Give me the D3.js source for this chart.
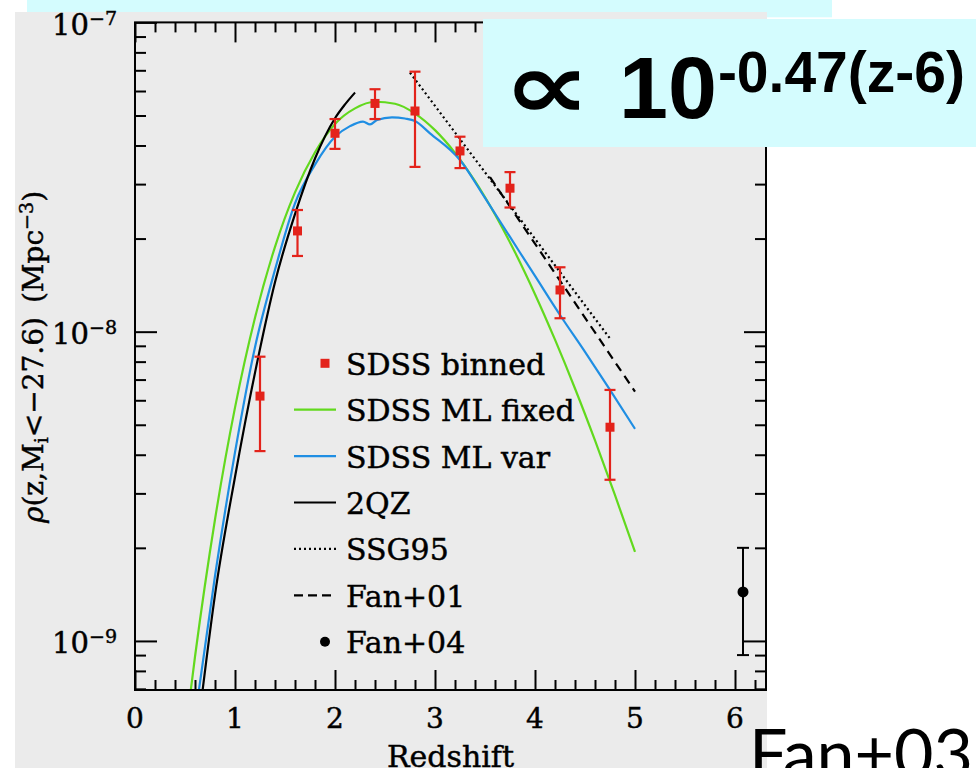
<!DOCTYPE html>
<html>
<head>
<meta charset="utf-8">
<script src="https://cdn.jsdelivr.net/npm/d3@7"></script>
<style>
  html, body { margin: 0; padding: 0; background: #ffffff; }
  svg { display: block; }
</style>
</head>
<body>
<svg id="fig" width="976" height="768"></svg>
<script>
// ---- data -----------------------------------------------------------------
// SDSS binned space density of luminous quasars (Mpc^-3) with 1-sigma range
const sdssZ   = [1.25, 1.625, 2.0, 2.4, 2.8, 3.25, 3.75, 4.25, 4.75];
const sdssRho = [6.19e-9, 2.117e-8, 4.38e-8, 5.47e-8, 5.17e-8, 3.84e-8, 2.91e-8, 1.364e-8, 4.91e-9];
const sdssHi  = [8.30e-9, 2.474e-8, 4.87e-8, 6.08e-8, 6.93e-8, 4.27e-8, 3.28e-8, 1.615e-8, 6.48e-9];
const sdssLo  = [4.11e-9, 1.757e-8, 3.90e-8, 4.87e-8, 3.41e-8, 3.38e-8, 2.52e-8, 1.105e-8, 3.32e-9];

// SDSS maximum-likelihood fit, fixed slope
const mlFixedZ   = [0.5, 0.6, 0.8, 1.0, 1.2, 1.4, 1.6, 1.8, 2.0, 2.2, 2.4, 2.6, 2.8, 3.0,
                    3.2, 3.4, 3.6, 3.8, 4.0, 4.2, 4.4, 4.6, 4.8, 5.0];
const mlFixedRho = [4.93e-10, 8.89e-10, 2.47e-9, 5.68e-9, 1.109e-8, 1.881e-8, 2.822e-8, 3.803e-8,
                    4.696e-8, 5.272e-8, 5.538e-8, 5.456e-8, 5.073e-8, 4.484e-8, 3.786e-8, 3.066e-8,
                    2.393e-8, 1.806e-8, 1.322e-8, 9.42e-9, 6.55e-9, 4.45e-9, 2.96e-9, 1.94e-9];

// SDSS maximum-likelihood fit, variable slope
const mlVarZ   = [0.6, 0.8, 1.0, 1.2, 1.4, 1.6, 1.8, 2.0, 2.15, 2.28, 2.35, 2.42, 2.57, 2.7,
                  2.8, 2.95, 3.25, 3.5, 3.75, 4.0, 4.25, 4.5, 4.75, 5.0];
const mlVarRho = [5.64e-10, 1.622e-9, 4.07e-9, 8.91e-9, 1.585e-8, 2.60e-8, 3.467e-8, 4.266e-8,
                  4.62e-8, 4.78e-8, 4.677e-8, 4.834e-8, 4.933e-8, 4.889e-8, 4.799e-8, 4.378e-8,
                  3.59e-8, 2.706e-8, 2.024e-8, 1.514e-8, 1.132e-8, 8.60e-9, 6.48e-9, 4.85e-9];

// 2QZ
const qzZ   = [0.65, 0.8, 1.0, 1.233, 1.4, 1.6, 1.8, 2.0, 2.1, 2.2];
const qzRho = [5.92e-10, 1.41e-9, 3.39e-9, 8.29e-9, 1.445e-8, 2.399e-8, 3.63e-8, 4.90e-8, 5.43e-8, 5.93e-8];

// SSG95 (power law in log space)
const ssgZ   = [2.75, 4.75];
const ssgRho = [6.88e-8, 9.5e-9];

// Fan+01 (power law in log space)
const fan01Z   = [3.55, 5.0];
const fan01Rho = [3.16e-8, 6.40e-9];

// Fan+04 single point at z~6
const fan04Z   = [6.08];
const fan04Rho = [1.44e-9];
const fan04Hi  = [2.0e-9];
const fan04Lo  = [9.0e-10];

// axis ticks and labels
const xTicks      = [0, 1, 2, 3, 4, 5, 6];
const xTickLabels = ['0', '1', '2', '3', '4', '5', '6'];
const yTicks      = [1e-9, 1e-8, 1e-7];
const yTickExp    = ['\u22129', '\u22128', '\u22127'];

const legendLabels = ['SDSS binned', 'SDSS ML fixed', 'SDSS ML var', '2QZ', 'SSG95', 'Fan+01', 'Fan+04'];

// ---- styling ----------------------------------------------------------------
const SERIF = '"DejaVu Serif", "Liberation Serif", serif';
const RED = '#e3231b', GREEN = '#62d91e', BLUE = '#1f8ee3', INK = '#000000';
const PANEL = '#ebebeb', CYAN = '#d4fcfe';

const svg = d3.select('#fig');

// backdrop: cyan strip, grey figure panel
svg.append('rect').attr('x', 27).attr('y', 0).attr('width', 805).attr('height', 17.3).attr('fill', CYAN);
svg.append('rect').attr('x', 15).attr('y', 12).attr('width', 752).attr('height', 756).attr('fill', PANEL);

// ---- scales ----------------------------------------------------------------
const x = d3.scaleLinear().domain([0, 6.31]).range([135, 766]);
const y = d3.scaleLog().domain([6.94e-10, 1e-7]).range([690, 22.4]);

const [x0, x1] = x.range();
const [y0, y1] = y.range();

svg.append('clipPath').attr('id', 'plotClip')
  .append('rect').attr('x', x0).attr('y', y1).attr('width', x1 - x0).attr('height', y0 - y1);

// ---- ticks (pointing into the frame) --------------------------------------------
const minorX = d3.range(1, 32).map(i => i * 0.2).filter(v => Math.abs(v - Math.round(v)) > 1e-6 && v < 6.31);
const minorY = [];
[1e-10, 1e-9, 1e-8].forEach(dec => { for (let k = 2; k <= 9; k++) { const v = k * dec; if (v > 6.94e-10 && v < 1e-7) minorY.push(v); } });

function tidy(g) {
  g.select('.domain').remove();
  g.selectAll('text').remove();
  g.selectAll('line').attr('stroke', INK).attr('stroke-width', 2);
}
const ticks = svg.append('g');
ticks.append('g').attr('transform', `translate(0,${y0})`).call(d3.axisBottom(x).tickValues(xTicks).tickSize(-20)).call(tidy);
ticks.append('g').attr('transform', `translate(0,${y0})`).call(d3.axisBottom(x).tickValues(minorX).tickSize(-10)).call(tidy);
ticks.append('g').attr('transform', `translate(0,${y1})`).call(d3.axisTop(x).tickValues(xTicks).tickSize(-20)).call(tidy);
ticks.append('g').attr('transform', `translate(0,${y1})`).call(d3.axisTop(x).tickValues(minorX).tickSize(-10)).call(tidy);
ticks.append('g').attr('transform', `translate(${x0},0)`).call(d3.axisLeft(y).tickValues(yTicks).tickSize(-22)).call(tidy);
ticks.append('g').attr('transform', `translate(${x0},0)`).call(d3.axisLeft(y).tickValues(minorY).tickSize(-11)).call(tidy);
ticks.append('g').attr('transform', `translate(${x1},0)`).call(d3.axisRight(y).tickValues(yTicks).tickSize(-22)).call(tidy);
ticks.append('g').attr('transform', `translate(${x1},0)`).call(d3.axisRight(y).tickValues(minorY).tickSize(-11)).call(tidy);

// ---- curves ----------------------------------------------------------------
const line = d3.line().x(d => x(d[0])).y(d => y(d[1])).curve(d3.curveMonotoneX);
const curves = svg.append('g').attr('clip-path', 'url(#plotClip)').attr('fill', 'none');

curves.append('path').attr('d', line(d3.zip(mlFixedZ, mlFixedRho))).attr('stroke', GREEN).attr('stroke-width', 2.2);
curves.append('path').attr('d', line(d3.zip(mlVarZ, mlVarRho))).attr('stroke', BLUE).attr('stroke-width', 2.2);
curves.append('path').attr('d', line(d3.zip(qzZ, qzRho))).attr('stroke', INK).attr('stroke-width', 2.2);
curves.append('path').attr('d', line(d3.zip(ssgZ, ssgRho))).attr('stroke', INK).attr('stroke-width', 2.2)
  .attr('stroke-dasharray', '2,3');
curves.append('path').attr('d', line(d3.zip(fan01Z, fan01Rho))).attr('stroke', INK).attr('stroke-width', 2.2)
  .attr('stroke-dasharray', '9,6');

// ---- SDSS binned points with error bars ---------------------------------------------
const pts = svg.append('g');
sdssZ.forEach((z, i) => {
  const cx = x(z);
  pts.append('line').attr('x1', cx).attr('x2', cx).attr('y1', y(sdssLo[i])).attr('y2', y(sdssHi[i]))
    .attr('stroke', RED).attr('stroke-width', 2.2);
  [sdssLo[i], sdssHi[i]].forEach(v => {
    pts.append('line').attr('x1', cx - 5.5).attr('x2', cx + 5.5).attr('y1', y(v)).attr('y2', y(v))
      .attr('stroke', RED).attr('stroke-width', 2.2);
  });
  pts.append('rect').attr('x', cx - 4.5).attr('y', y(sdssRho[i]) - 4.5).attr('width', 9).attr('height', 9).attr('fill', RED);
});

// Fan+04 point
fan04Z.forEach((z, i) => {
  const cx = x(z);
  pts.append('line').attr('x1', cx).attr('x2', cx).attr('y1', y(fan04Lo[i])).attr('y2', y(fan04Hi[i]))
    .attr('stroke', INK).attr('stroke-width', 2);
  [fan04Lo[i], fan04Hi[i]].forEach(v => {
    pts.append('line').attr('x1', cx - 6).attr('x2', cx + 6).attr('y1', y(v)).attr('y2', y(v))
      .attr('stroke', INK).attr('stroke-width', 2);
  });
  pts.append('circle').attr('cx', cx).attr('cy', y(fan04Rho[i])).attr('r', 5.5).attr('fill', INK);
});

// ---- frame ----------------------------------------------------------------
svg.append('rect').attr('x', x0).attr('y', y1).attr('width', x1 - x0).attr('height', y0 - y1)
  .attr('fill', 'none').attr('stroke', INK).attr('stroke-width', 2);

// ---- tick labels -------------------------------------------------------------
// a hairline outline gives the serif glyphs the heavier plotter weight
const labels = svg.append('g').attr('font-family', SERIF).attr('fill', INK)
  .attr('stroke', INK).attr('stroke-width', 0.45);
xTicks.forEach((v, i) => {
  labels.append('text').attr('x', x(v)).attr('y', 728).attr('text-anchor', 'middle')
    .attr('font-size', 28).text(xTickLabels[i]);
});
yTicks.forEach((v, i) => {
  const t = labels.append('text').attr('x', 117).attr('y', y(v) + 12.5).attr('text-anchor', 'end').attr('font-size', 29);
  t.append('tspan').text('10');
  t.append('tspan').attr('font-size', 19).attr('dy', -10).text(yTickExp[i]);
});

// axis titles
labels.append('text').attr('x', (x0 + x1) / 2).attr('y', 767).attr('text-anchor', 'middle')
  .attr('font-size', 30).text('Redshift');

const yt = labels.append('text').attr('transform', 'translate(43,357) rotate(-90)')
  .attr('text-anchor', 'middle').attr('font-size', 28);
yt.append('tspan').attr('font-style', 'italic').text('\u03c1');
yt.append('tspan').text('(z,M');
yt.append('tspan').attr('font-size', 19).attr('dy', 5).text('i');
yt.append('tspan').attr('dy', -5).text('<\u221227.6)');
yt.append('tspan').attr('dx', 14).text('(Mpc');
yt.append('tspan').attr('font-size', 19).attr('dy', -10).text('\u22123');
yt.append('tspan').attr('dy', 10).text(')');

// ---- legend ----------------------------------------------------------------
const leg = svg.append('g');
const rowY = i => 363.3 + i * 46.4;
legendLabels.forEach((lab, i) => {
  const cy = rowY(i);
  if (i === 0) {
    leg.append('rect').attr('x', 325 - 4.5).attr('y', cy - 4.5).attr('width', 9).attr('height', 9).attr('fill', RED);
  } else if (i === 6) {
    leg.append('circle').attr('cx', 325).attr('cy', cy).attr('r', 5).attr('fill', INK);
  } else {
    const stroke = [null, GREEN, BLUE, INK, INK, INK][i];
    const dash = [null, null, null, null, '2,3', '9,5'][i];
    const l = leg.append('line').attr('x1', 294).attr('x2', 336).attr('y1', cy).attr('y2', cy)
      .attr('stroke', stroke).attr('stroke-width', 2.2);
    if (dash) l.attr('stroke-dasharray', dash);
  }
  leg.append('text').attr('x', 346).attr('y', cy + 11.5).attr('font-family', SERIF)
    .attr('font-size', 30).attr('fill', INK).attr('stroke', INK).attr('stroke-width', 0.45).text(lab);
});

// ---- annotation box: proportional scaling law ---------------------------------------
svg.append('rect').attr('x', 483).attr('y', 19).attr('width', 493).attr('height', 128).attr('fill', CYAN);
const SANS_BOLD = '"Liberation Sans", Arial, "DejaVu Sans", sans-serif';
svg.append('text').attr('transform', 'translate(503,118) scale(1.4,1.05)')
  .attr('font-family', SANS_BOLD).attr('font-weight', 700)
  .attr('font-size', 88).attr('fill', INK).text('\u221d');
const law = svg.append('text').attr('x', 619).attr('y', 118).attr('font-family', SANS_BOLD)
  .attr('font-weight', 700).attr('fill', INK);
law.append('tspan').attr('font-size', 88).text('10');
law.append('tspan').attr('font-size', 57).attr('dx', 1).attr('dy', -26).text('-0.47(z-6)');

// ---- reference tag -----------------------------------------------------------
const tag = svg.append('text').attr('x', 749).attr('y', 790)
  .attr('font-family', 'Lato, "Open Sans", sans-serif').attr('font-size', 70).attr('fill', INK).text('Fan+03');
const tw = tag.node().getComputedTextLength();
const fs = 70 * 224 / tw;
tag.attr('font-size', fs).attr('y', 729 + 0.7165 * fs);
</script>
</body>
</html>
